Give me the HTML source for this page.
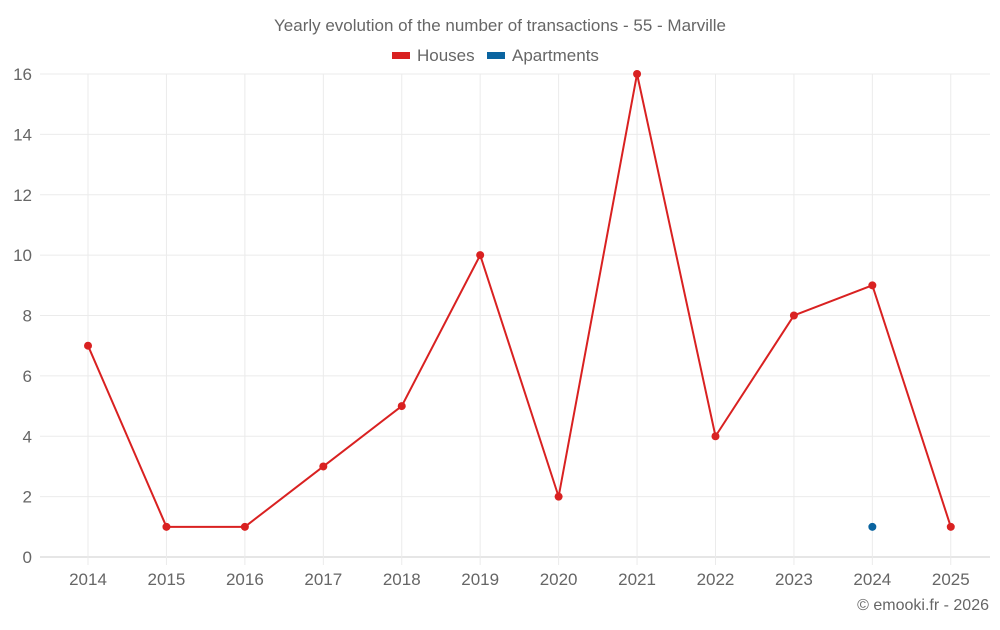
<!DOCTYPE html>
<html><head><meta charset="utf-8"><style>
body{margin:0;background:#fff;font-family:"Liberation Sans",sans-serif;}
svg text{font-family:"Liberation Sans",sans-serif;fill:#666;}
</style></head><body>
<svg id="c" width="1000" height="625">
<text x="500" y="31" text-anchor="middle" font-size="17">Yearly evolution of the number of transactions - 55 - Marville</text>
<g>
<g><rect x="392" y="52" width="18" height="7" fill="#d92121"/><text x="417" y="61" font-size="17">Houses</text></g>
<g><rect x="487" y="52" width="18" height="7" fill="#0a64a0"/><text x="512" y="61" font-size="17">Apartments</text></g>
</g>
<g id="grid"></g>
<g id="axes"></g>
<g id="series"></g>
<text x="989" y="610" text-anchor="end" font-size="16">© emooki.fr - 2026</text>
</svg>
<script>
const years=["2014","2015","2016","2017","2018","2019","2020","2021","2022","2023","2024","2025"];
const houses=[7,1,1,3,5,10,2,16,4,8,9,1];
const apartments=[null,null,null,null,null,null,null,null,null,null,1,null];
const yTicks=[0,2,4,6,8,10,12,14,16];
const L=48.8,R=990,T=74,B=557,yMax=16;
const bw=(R-L)/years.length;
const x=i=>L+bw*(i+0.5);
const y=v=>B-(B-T)*v/yMax;
const NS="http://www.w3.org/2000/svg";
function mk(tag,attrs,parent){const e=document.createElementNS(NS,tag);for(const k in attrs)e.setAttribute(k,attrs[k]);parent.appendChild(e);return e;}
const grid=document.getElementById('grid'),axes=document.getElementById('axes'),series=document.getElementById('series');
yTicks.forEach(t=>{
 const l=mk('line',{x1:40,x2:R,y1:y(t),y2:y(t),stroke:t===0?'#ccc':'#ebebeb','stroke-width':1},grid);
 
 
 const tx=mk('text',{x:32,y:y(t)+6,'text-anchor':'end','font-size':17},axes);
 tx.textContent=t;
 
 
});
years.forEach((yr,i)=>{
 const l=mk('line',{x1:x(i),x2:x(i),y1:T,y2:B+8,stroke:'#ebebeb','stroke-width':1},grid);
 
 
 const tx=mk('text',{x:x(i),y:585,'text-anchor':'middle','font-size':17},axes);
 tx.textContent=yr;
 
 
});
function draw(vals,color,name){
 const pts=[];vals.forEach((v,i)=>{if(v!==null)pts.push([x(i),y(v)]);});
 if(pts.length>1){const p=mk('polyline',{points:pts.map(p=>p.join(',')).join(' '),fill:'none',stroke:color,'stroke-width':2},series);
 
 }
 pts.forEach(pt=>{const c=mk('circle',{cx:pt[0],cy:pt[1],r:4,fill:color},series);
 
 });
}
draw(houses,'#d92121','houses');
draw(apartments,'#0a64a0','apartments');
</script>
</body></html>
